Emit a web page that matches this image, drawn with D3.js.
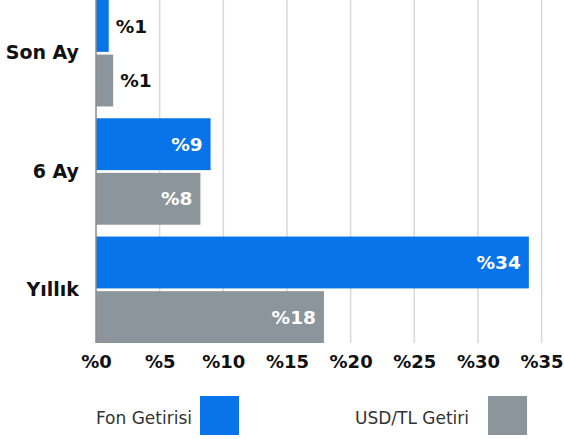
<!DOCTYPE html>
<html><head><meta charset="utf-8">
<script src="https://cdn.jsdelivr.net/npm/d3@7/dist/d3.min.js"></script>
<style>body{margin:0;background:#fff}svg{display:block}</style>
</head><body>
<svg id="c" width="564" height="439"></svg>
<script>
const categories = ["Son Ay", "6 Ay", "Yıllık"];
const seriesNames = ["Fon Getirisi", "USD/TL Getiri"];
const fonValues = [1.0, 9.0, 34.0];
const usdValues = [1.35, 8.2, 17.9];
const valueLabels = [["%1", "%9", "%34"], ["%1", "%8", "%18"]];
const tickValues = [0, 5, 10, 15, 20, 25, 30, 35];
const colors = ["#0774e9", "#8c959c"];

const svg = d3.select("#c");
const font = "'DejaVu Sans', sans-serif";
const x = d3.scaleLinear().domain([0, 35]).range([96, 541.6]);
const y = d3.scaleBand().domain(categories).range([0, 343]).paddingInner(0.1).paddingOuter(0);
const ySub = d3.scaleBand().domain([0, 1]).range([0, y.bandwidth()]).paddingInner(0.05);

// gridlines
svg.append("g").selectAll("line").data(tickValues.slice(1)).join("line")
  .attr("x1", d => x(d)).attr("x2", d => x(d))
  .attr("y1", 0).attr("y2", 343)
  .attr("stroke", "#d9d9d9").attr("stroke-width", 1.5);

const series = [fonValues, usdValues];
series.forEach((vals, si) => {
  const g = svg.append("g");
  g.selectAll("rect").data(categories).join("rect")
    .attr("x", x(0))
    .attr("y", (c) => y(c) + ySub(si))
    .attr("width", (c, i) => x(vals[i]) - x(0))
    .attr("height", ySub.bandwidth())
    .attr("fill", colors[si]);
  g.selectAll("text").data(categories).join("text")
    .attr("x", (c, i) => vals[i] < 3 ? x(vals[i]) + 7 : x(vals[i]) - 8)
    .attr("y", (c) => y(c) + ySub(si) + ySub.bandwidth() / 2)
    .attr("dy", "0.36em")
    .attr("text-anchor", (c, i) => vals[i] < 3 ? "start" : "end")
    .attr("fill", (c, i) => vals[i] < 3 ? "#111" : "#fff")
    .attr("font-family", font).attr("font-weight", "bold").attr("font-size", 18.5)
    .text((c, i) => valueLabels[si][i]);
});

// left axis line
svg.append("line").attr("x1", 96).attr("x2", 96).attr("y1", 0).attr("y2", 343)
  .attr("stroke", "#8a8a8a").attr("stroke-width", 1.5);

// category labels
const yAxis = d3.axisLeft(y).tickSize(0).tickPadding(17);
const ya = svg.append("g").attr("transform", "translate(96,0)").call(yAxis);
ya.select(".domain").remove();
ya.selectAll("text").attr("font-family", font).attr("font-weight", "bold")
  .attr("font-size", 19).attr("fill", "#111");

// x axis
const xAxis = d3.axisBottom(x).tickValues(tickValues).tickSize(0).tickPadding(12).tickFormat(d => "%" + d);
const xa = svg.append("g").attr("transform", "translate(0,343)").call(xAxis);
xa.select(".domain").remove();
xa.selectAll("text").attr("font-family", font).attr("font-weight", "bold")
  .attr("font-size", 18).attr("fill", "#111");

// legend
const legend = [{x: 200, tx: 192}, {x: 488, tx: 469}];
legend.forEach((l, i) => {
  svg.append("rect").attr("x", l.x).attr("y", 396).attr("width", 39).attr("height", 39).attr("fill", colors[i]);
  svg.append("text").attr("x", l.tx).attr("y", 418).attr("dy", "0.36em")
    .attr("text-anchor", "end").attr("font-family", font).attr("font-size", 17)
    .attr("fill", "#333").text(seriesNames[i]);
});
</script>
</body></html>
